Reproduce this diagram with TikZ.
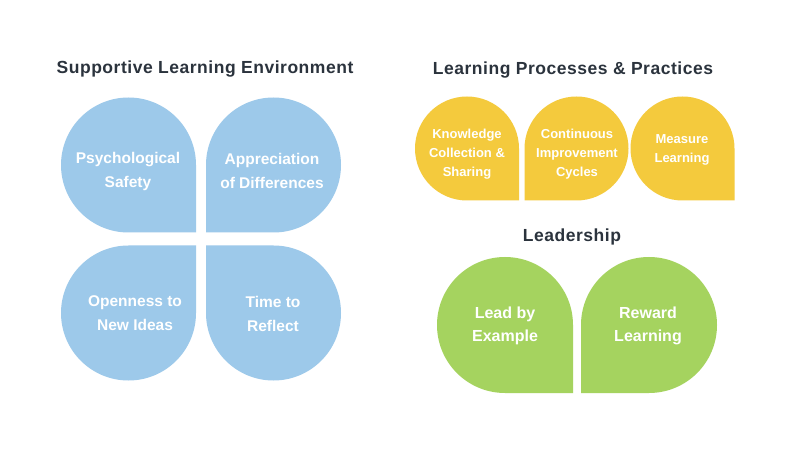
\documentclass[tikz,border=0pt]{standalone}
\usepackage{fontspec}
\setmainfont{Liberation Sans}
\newfontfamily\headfont[LetterSpace=3]{Liberation Sans}
\usepackage{tikz}
\usetikzlibrary{positioning}

\definecolor{envblue}{HTML}{9DC9EA}
\definecolor{procyellow}{HTML}{F4CA3D}
\definecolor{leadgreen}{HTML}{A5D35F}
\definecolor{headgray}{HTML}{2B333D}

\begin{document}
\begin{tikzpicture}[
    x=1pt, y=1pt,
    heading/.style={font=\headfont\bfseries\fontsize{17.5}{20}\selectfont, text=headgray, anchor=base, inner sep=0pt},
    petal/.style={text=white, align=center, inner sep=0pt, font=\bfseries\fontsize{15.5}{24}\selectfont},
    smallpetal/.style={petal, font=\bfseries\fontsize{13}{19}\selectfont},
    leadpetal/.style={petal, font=\bfseries\fontsize{16}{23}\selectfont}
]
\fill[white] (0,0) rectangle (800,450);
\useasboundingbox (0,0) rectangle (800,450);

% --- SUPPORTIVE LEARNING ENVIRONMENT ---
\node (envtitle) [heading] at (205,376) {Supportive Learning Environment};

% square corners point to the middle of the cross
\fill[envblue] (128.5,285) ++(67.5,-67.5) -- ++(0,67.5) arc[start angle=0, end angle=270, radius=67.5] -- cycle;
\fill[envblue] (273.5,285) ++(-67.5,-67.5) -- ++(67.5,0) arc[start angle=-90, end angle=180, radius=67.5] -- cycle;
\fill[envblue] (128.5,137) ++(67.5,67.5) -- ++(-67.5,0) arc[start angle=90, end angle=360, radius=67.5] -- cycle;
\fill[envblue] (273.5,137) ++(-67.5,67.5) -- ++(0,-67.5) arc[start angle=180, end angle=450, radius=67.5] -- cycle;

\node (safety)     [petal] at (128,279) {Psychological\\Safety};
\node (difference) [petal] at (272,279) {Appreciation\\of Differences};
\node (openness)   [petal] at (135,136.5) {Openness to\\New Ideas};
\node (reflect)    [petal] at (273,136.5) {Time to\\Reflect};

% --- LEARNING PROCESSES & PRACTICES ---
\node (proctitle) [heading] at (573,375) {Learning Processes \& Practices};

\fill[procyellow] (467,301.5) ++(52,-52) -- ++(0,52) arc[start angle=0, end angle=270, radius=52] -- cycle;
\fill[procyellow] (576.5,301.5) ++(-52,-52) -- ++(52,0) arc[start angle=-90, end angle=180, radius=52] -- cycle;
\fill[procyellow] (682.5,301.5) ++(52,-52) -- ++(0,52) arc[start angle=0, end angle=270, radius=52] -- cycle;

\node (knowledge)   [smallpetal] at (467,296) {Knowledge\\Collection \&\\Sharing};
\node (improvement) [smallpetal] at (577,296) {Continuous\\Improvement\\Cycles};
\node (measure)     [smallpetal] at (682,300) {Measure\\Learning};

% --- LEADERSHIP ---
\node (leadtitle) [heading] at (572,208) {Leadership};

\fill[leadgreen] (505,125) ++(68,-68) -- ++(0,68) arc[start angle=0, end angle=270, radius=68] -- cycle;
\fill[leadgreen] (649,125) ++(-68,-68) -- ++(68,0) arc[start angle=-90, end angle=180, radius=68] -- cycle;

\node (example) [leadpetal] at (505,124) {Lead by\\Example};
\node (reward)  [leadpetal] at (648,124) {Reward\\Learning};

\end{tikzpicture}
\end{document}
